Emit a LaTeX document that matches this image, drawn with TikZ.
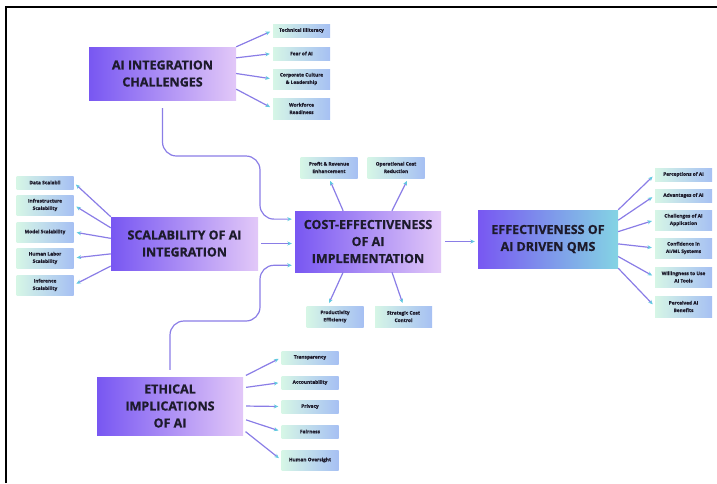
\documentclass[tikz,border=0pt]{standalone}
\usepackage{fontspec}
\setmainfont{Open Sans}[BoldFeatures={FakeBold=0.8}]
\usetikzlibrary{arrows.meta, positioning}

\definecolor{violetfonce}{HTML}{7857F2}
\definecolor{lavande}{HTML}{E2C8F8}
\definecolor{turquoise}{HTML}{84D4E4}
\definecolor{menthe}{HTML}{D6F6E6}
\definecolor{bleuclair}{HTML}{A6C0F3}
\definecolor{trait}{HTML}{8A7DE6}
\definecolor{pointe}{HTML}{62C9E0}
\definecolor{encre}{HTML}{1D1B2C}

\begin{document}
\begin{tikzpicture}[
		x=1pt, y=-1pt,
		% Style des grands blocs (dégradé violet)
		pilier/.style={
			left color=violetfonce,
			right color=#1,
			draw=none,
			text=encre,
			font=\fontsize{12.5}{17}\selectfont\bfseries,
			align=center,
			inner sep=0pt,
		},
		pilier/.default=lavande,
		% Style des petites étiquettes (dégradé vert-bleu)
		feuille/.style={
			left color=menthe,
			right color=bleuclair,
			draw=none,
			text=encre,
			font=\fontsize{4.8}{7.4}\selectfont\bfseries,
			align=center,
			minimum width=57pt,
			minimum height=#1,
			inner sep=0pt,
		},
		feuille/.default=13pt,
		% Style des flèches
		fleche/.style={
			draw=trait,
			line width=1.2pt,
			-{Stealth[length=4.5pt, width=4pt, color=pointe]},
			shorten >=3pt
		}
		]
		\useasboundingbox (0,0) rectangle (717,483);
		\draw[line width=2pt, black] (5.5,483) -- (5.5,6.5) -- (717,6.5);
		
		% --- BLOCS PRINCIPAUX ---
		\node[pilier, minimum width=147pt, minimum height=53pt] (chal) at (162.5,73.5) {AI INTEGRATION\\CHALLENGES};
		\node[pilier, minimum width=147pt, minimum height=53pt] (scal) at (184.5,243.5) {SCALABILITY OF AI\\INTEGRATION};
		\node[pilier, minimum width=146pt, minimum height=61pt] (cost) at (368,241.5) {COST-EFFECTIVENESS\\OF AI\\IMPLEMENTATION};
		\node[pilier=turquoise, minimum width=140pt, minimum height=58pt] (eff) at (548,239) {EFFECTIVENESS OF\\AI DRIVEN QMS};
		\node[pilier, minimum width=146pt, minimum height=58pt] (eth) at (170,406) {ETHICAL\\IMPLICATIONS\\OF AI};
		
		% --- ÉTIQUETTES : AI INTEGRATION CHALLENGES ---
		\node[feuille] (t1) at (301.5,30.5) {Technical Illiteracy};
		\node[feuille] (t2) at (301.5,53.5) {Fear of AI};
		\node[feuille=20pt] (t3) at (301.5,79) {Corporate Culture\\\& Leadership};
		\node[feuille=21pt] (t4) at (301.5,108.5) {Workforce\\Readiness};
		
		% --- ÉTIQUETTES : SCALABILITY ---
		\node[feuille] (s1) at (45,182.5) {Data Scalabil};
		\node[feuille=20pt] (s2) at (45,205) {Infrastructure\\Scalability};
		\node[feuille=20pt] (s3) at (45,232) {Model Scalability};
		\node[feuille=20pt] (s4) at (45,258) {Human Labor\\Scalability};
		\node[feuille=20pt] (s5) at (45,285) {Inference\\Scalability};
		
		% --- ÉTIQUETTES : COST-EFFECTIVENESS ---
		\node[feuille=21pt] (c1) at (329,167.5) {Profit \& Revenue\\Enhancement};
		\node[feuille=21pt] (c2) at (396,167.5) {Operational Cost\\Reduction};
		\node[feuille=21pt] (c3) at (335,316.5) {Productivity\\Efficiency};
		\node[feuille=21pt] (c4) at (403.5,316.5) {Strategic Cost\\Control};
		
		% --- ÉTIQUETTES : EFFECTIVENESS ---
		\node[feuille] (e1) at (683.5,174.5) {Perceptions of AI};
		\node[feuille] (e2) at (683.5,195.5) {Advantages of AI};
		\node[feuille=20pt] (e3) at (683.5,220) {Challenges of AI\\Application};
		\node[feuille=20pt] (e4) at (683.5,248) {Confidence in\\AI/ML Systems};
		\node[feuille=20pt] (e5) at (683.5,277) {Willingness to Use\\AI Tools};
		\node[feuille=21pt] (e6) at (683.5,306.5) {Perceived AI\\Benefits};
		
		% --- ÉTIQUETTES : ETHICAL ---
		\node[feuille] (h1) at (310,357.5) {Transparency};
		\node[feuille] (h2) at (310,382.5) {Accountability};
		\node[feuille] (h3) at (310,406.5) {Privacy};
		\node[feuille] (h4) at (310,431.5) {Fairness};
		\node[feuille=20pt] (h5) at (310,460) {Human Oversight};
		
		% --- COORDONNÉES DES COUDES ---
		\coordinate (j1) at (260,156);
		\coordinate (j2) at (260,321);
		
		% --- FLÈCHES ---
		\draw[fleche] (chal.north east) -- (t1.west);
		\draw[fleche] (chal.12) -- (t2.west);
		\draw[fleche] (chal.east) -- (t3.west);
		\draw[fleche] (chal.-12) -- (t4.west);
		
		\draw[fleche] (scal.north west) -- (s1.east);
		\draw[fleche] (scal.168) -- (s2.east);
		\draw[fleche] (scal.176) -- (s3.east);
		\draw[fleche] (scal.188) -- (s4.east);
		\draw[fleche] (scal.197) -- (s5.east);
		
		\draw[fleche] (cost.129) -- (c1.south);
		\draw[fleche] (cost.52) -- (c2.-41);
		\draw[fleche] (cost.231) -- (c3.124);
		\draw[fleche] (cost.308) -- (c4.north);
		
		\draw[fleche] (eff.north east) -- (e1.west);
		\draw[fleche] (eff.15) -- (e2.west);
		\draw[fleche] (eff.6) -- (e3.west);
		\draw[fleche] (eff.-4) -- (e4.west);
		\draw[fleche] (eff.-14) -- (e5.west);
		\draw[fleche] (eff.south east) -- (e6.west);
		
		\draw[fleche, shorten <=3pt] (eth.north east) -- (h1.west);
		\draw[fleche, shorten <=3pt] (eth.14) -- (h2.west);
		\draw[fleche, shorten <=3pt] (eth.east) -- (h3.west);
		\draw[fleche, shorten <=3pt] (eth.-10) -- (h4.west);
		\draw[fleche, shorten <=3pt] (eth.-18) -- (h5.west);
		
		% liaisons vers le bloc central
		\draw[fleche, shorten <=3pt] (scal.east) -- (scal.east -| cost.west);
		\draw[fleche, shorten <=4pt] (cost.east) -- (cost.east -| eff.west);
		\draw[fleche, shorten <=8pt, rounded corners=14pt] (chal.south) |- (j1) |- (cost.163);
		\draw[fleche, shorten <=7pt, rounded corners=14pt] (eth.north) |- (j2) |- (cost.198);
		
	\end{tikzpicture}
\end{document}
